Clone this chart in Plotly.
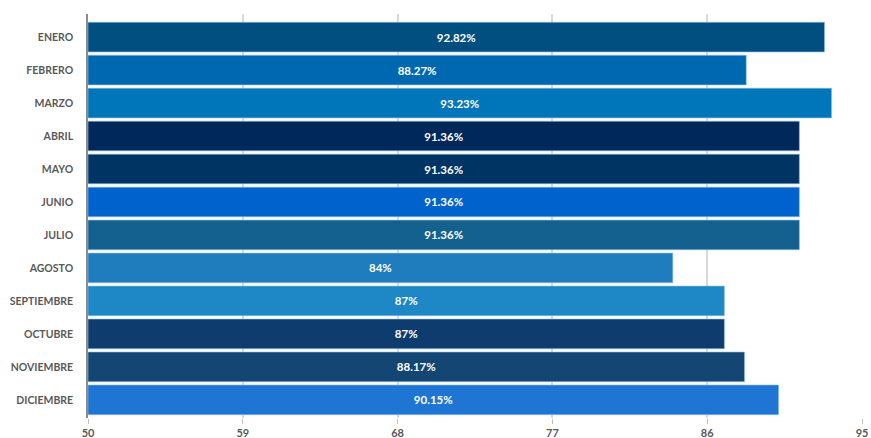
import plotly.graph_objects as go

months = ["ENERO", "FEBRERO", "MARZO", "ABRIL", "MAYO", "JUNIO", "JULIO",
          "AGOSTO", "SEPTIEMBRE", "OCTUBRE", "NOVIEMBRE", "DICIEMBRE"]
values = [92.82, 88.27, 93.23, 91.36, 91.36, 91.36, 91.36, 84, 87, 87, 88.17, 90.15]
labels = ["92.82%", "88.27%", "93.23%", "91.36%", "91.36%", "91.36%", "91.36%",
          "84%", "87%", "87%", "88.17%", "90.15%"]
colors = ["#004f80", "#0068b0", "#0076ba", "#00285a", "#003462", "#0063cd",
          "#14608f", "#1f7cbd", "#1d88c5", "#0f3c6e", "#134673", "#1f75d4"]
x_ticks = [50, 59, 68, 77, 86, 95]
base_value = 50

fig = go.Figure(go.Bar(
    y=months,
    x=[v - base_value for v in values],
    base=base_value,
    orientation="h",
    marker=dict(color=colors, line=dict(color="rgba(140,190,230,0.6)", width=1)),
    text=labels,
    textposition="inside",
    insidetextanchor="middle",
    textfont=dict(family="Lato", size=11.5, color="white", weight="bold"),
    width=0.9,
))

fig.update_layout(
    width=871, height=438,
    margin=dict(l=88, r=9, t=14, b=20),
    paper_bgcolor="white", plot_bgcolor="white",
    showlegend=False,
)
fig.update_xaxes(
    range=[50, 95], tickvals=x_ticks, showgrid=True, gridcolor="#d9d9d9", gridwidth=1.5,
    zeroline=False, ticks="outside", ticklen=5, tickcolor="#bfbfbf",
    tickfont=dict(family="Lato", size=11, color="#595959", weight="bold"),
    showline=False, automargin=False,
)
fig.update_yaxes(
    categoryorder="array", categoryarray=months,
    range=[11.55, -0.7], showgrid=False, zeroline=False,
    showline=True, linecolor="#8c8c8c", linewidth=1.5,
    ticks="", ticklabelstandoff=11, automargin=False,
    tickfont=dict(family="Lato", size=10.5, color="#595959", weight="bold"),
)
# remove the browser's default 8px page margin so the figure fills the window
fig.write_html("out.html", config={"displayModeBar": False},
               post_script="document.body.style.margin='0px';")
